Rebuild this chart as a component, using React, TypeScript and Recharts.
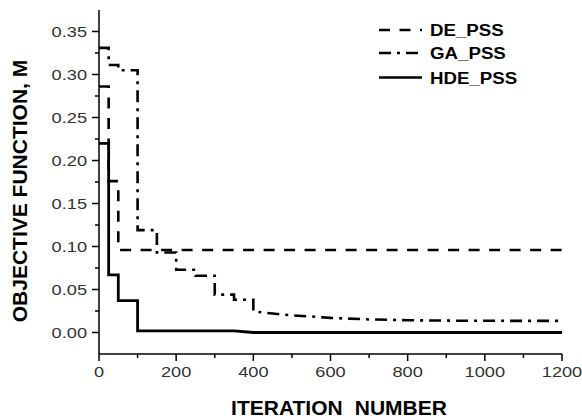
import React from 'react'
import { LineChart, Line, XAxis, YAxis } from 'recharts'

// step breakpoints (iteration, value) followed by a smooth tail
const deStepX = [0, 25, 50]
const deStepY = [0.286, 0.176, 0.096]
const deTailX = [1200]
const deTailY = [0.096]

const gaStepX = [0, 25, 50, 100, 150, 200, 250, 300, 350]
const gaStepY = [0.331, 0.311, 0.305, 0.119, 0.093, 0.073, 0.066, 0.044, 0.038]
const gaTailX = [400, 450, 500, 550, 600, 700, 800, 900, 1000, 1200]
const gaTailY = [0.0245, 0.022, 0.02, 0.0186, 0.017, 0.0152, 0.0143, 0.0138, 0.0136, 0.0135]

const hdeStepX = [0, 25, 50, 100]
const hdeStepY = [0.22, 0.067, 0.037, 0.002]
const hdeTailX = [350, 400, 1200]
const hdeTailY = [0.002, 0, 0]

const xTicks = [0, 100, 200, 300, 400, 500, 600, 700, 800, 900, 1000, 1100, 1200]
const yTicks = [0, 0.025, 0.05, 0.075, 0.1, 0.125, 0.15, 0.175, 0.2, 0.225, 0.25, 0.275, 0.3, 0.325, 0.35]

const seriesNames = ['DE_PSS', 'GA_PSS', 'HDE_PSS']
const dashes = ['11 9.5', '12 6 3 6', undefined]

function buildPoints(sx: number[], sy: number[], tx: number[], ty: number[]) {
  const pts: { x: number; y: number }[] = []
  sx.forEach((x, i) => {
    const next = i < sx.length - 1 ? sx[i + 1] : tx[0]
    pts.push({ x, y: sy[i] })
    pts.push({ x: next, y: sy[i] })
  })
  tx.forEach((x, i) => pts.push({ x, y: ty[i] }))
  return pts
}

const deData = buildPoints(deStepX, deStepY, deTailX, deTailY)
const gaData = buildPoints(gaStepX, gaStepY, gaTailX, gaTailY)
const hdeData = buildPoints(hdeStepX, hdeStepY, hdeTailX, hdeTailY)

const FONT = '"Liberation Sans", Arial, sans-serif'

function XTick(props: any) {
  const { x, y, payload } = props
  const v = payload.value
  const major = v % 200 === 0
  const ay = y - 12
  return (
    <g>
      <line x1={x} x2={x} y1={ay} y2={ay + (major ? 7 : 4)} stroke="#000" strokeWidth={1.5} />
      {major && (
        <text transform={`translate(${x},${ay + 23}) scale(1.3,1)`} textAnchor="middle" fontFamily={FONT} fontSize={14} fill="#333">
          {v}
        </text>
      )}
    </g>
  )
}

function YTick(props: any) {
  const { x, y, payload } = props
  const v = payload.value
  const major = Math.round(v * 1000) % 50 === 0
  const ax = x + 12
  return (
    <g>
      <line x1={ax - (major ? 7 : 4)} x2={ax} y1={y} y2={y} stroke="#000" strokeWidth={1.5} />
      {major && (
        <text transform={`translate(${x},${y + 5}) scale(1.3,1)`} textAnchor="end" fontFamily={FONT} fontSize={14} fill="#333">
          {v.toFixed(2)}
        </text>
      )}
    </g>
  )
}

export default function App() {
  const legendY = [30, 53, 77.5]
  return (
    <div style={{ position: 'absolute', left: 0, top: 0, width: 582, height: 419, background: '#fff' }}>
      <LineChart width={582} height={419} margin={{ top: 10, right: 20, left: 0, bottom: 0 }}>
        <XAxis
          dataKey="x"
          type="number"
          domain={[0, 1200]}
          ticks={xTicks}
          interval={0}
          height={65}
          tickSize={7}
          tickMargin={5}
          tickLine={false}
          axisLine={{ stroke: '#000', strokeWidth: 1.5 }}
          tick={<XTick />}
        />
        <YAxis
          type="number"
          domain={[-0.025, 0.375]}
          ticks={yTicks}
          interval={0}
          width={99}
          tickSize={7}
          tickMargin={5}
          tickLine={false}
          axisLine={{ stroke: '#000', strokeWidth: 1.5 }}
          tick={<YTick />}
          allowDataOverflow
        />
        <Line data={deData} dataKey="y" type="linear" stroke="#000" strokeWidth={2.6} strokeDasharray={dashes[0]} dot={false} activeDot={false} isAnimationActive={false} />
        <Line data={gaData} dataKey="y" type="linear" stroke="#000" strokeWidth={2.6} strokeDasharray={dashes[1]} dot={false} activeDot={false} isAnimationActive={false} />
        <Line data={hdeData} dataKey="y" type="linear" stroke="#000" strokeWidth={2.8} dot={false} activeDot={false} isAnimationActive={false} />
      </LineChart>
      <svg width={582} height={419} style={{ position: 'absolute', left: 0, top: 0, pointerEvents: 'none' }}>
        {seriesNames.map((name, i) => (
          <g key={name}>
            <line x1={379} x2={422} y1={legendY[i]} y2={legendY[i]} stroke="#000" strokeWidth={2.6} strokeDasharray={dashes[i]} />
            <text transform={`translate(430,${legendY[i] + 6}) scale(1.1,1)`} fontFamily={FONT} fontWeight="bold" fontSize={17} fill="#000">
              {name}
            </text>
          </g>
        ))}
        <text transform="translate(339,415) scale(1.05,1)" textAnchor="middle" fontFamily={FONT} fontWeight="bold" fontSize={20} fill="#000" wordSpacing={6}>
          ITERATION NUMBER
        </text>
        <text transform="translate(27,191) rotate(-90) scale(1.05,1)" textAnchor="middle" fontFamily={FONT} fontWeight="bold" fontSize={20} fill="#000">
          OBJECTIVE FUNCTION, M
        </text>
      </svg>
    </div>
  )
}
